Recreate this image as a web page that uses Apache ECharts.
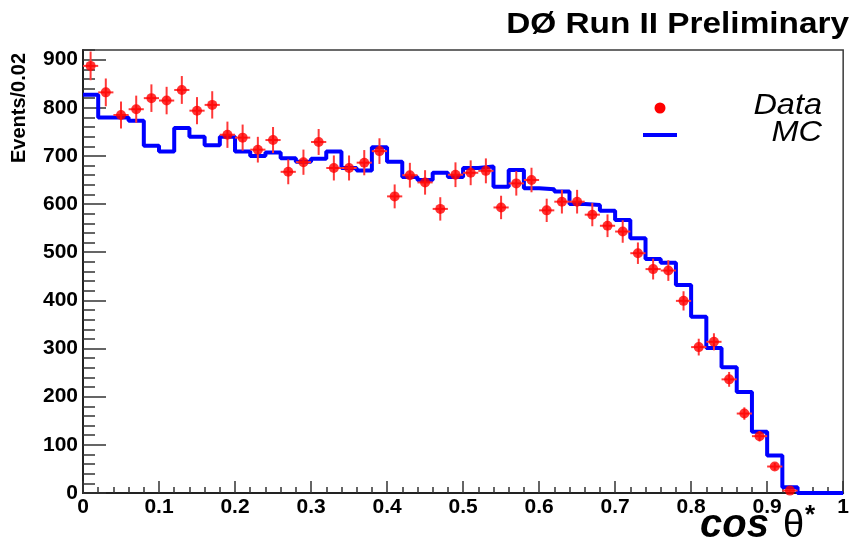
<!DOCTYPE html>
<html>
<head>
<meta charset="utf-8">
<script src="https://cdn.jsdelivr.net/npm/echarts@6/dist/echarts.min.js"></script>
<style>
  html, body { margin: 0; padding: 0; background: #fff; }
  #chart { width: 852px; height: 543px; }
</style>
</head>
<body>
<div id="chart"></div>
<script>
// cos theta* distribution, bins of 0.02 from 0 to 1
var binWidth = 0.02;

// MC histogram content per bin (50 bins)
var mcCounts = [
    827, 780, 780, 773, 721, 709, 758, 740, 722, 740,
    709, 700, 707, 695, 688, 694, 709, 675, 670, 718,
    688, 656, 650, 665, 656, 675, 678, 636, 671, 633,
    631, 626, 600, 598, 586, 567, 529, 486, 478, 432,
    366, 301, 261, 210, 127, 78, 12, 0, 0, 0
];

// data points at bin centres 0.01 ... 0.93
var dataCounts = [
    887, 832, 785, 797, 820, 815, 837, 794, 806, 744,
    738, 713, 733, 667, 687, 729, 675, 675, 686, 710,
    616, 660, 645, 590, 661, 665, 669, 593, 643, 650,
    587, 605, 605, 578, 555, 543, 498, 465, 462, 399,
    303, 314, 236, 165, 118, 55, 5
];

var yTicks = [0, 100, 200, 300, 400, 500, 600, 700, 800, 900];
var xTicks = [0, 0.1, 0.2, 0.3, 0.4, 0.5, 0.6, 0.7, 0.8, 0.9, 1];

// step line through the low edge of every bin, closed at x = 1
var mcLine = mcCounts.map(function (v, i) {
    return [+(i * binWidth).toFixed(2), v];
});
mcLine.push([1, mcCounts[mcCounts.length - 1]]);

var dataPts = dataCounts.map(function (v, i) {
    return [+((i + 0.5) * binWidth).toFixed(2), v, Math.sqrt(v)];
});

var FONT = '"Liberation Sans", Arial, Helvetica, sans-serif';

var chart = echarts.init(document.getElementById('chart'), null, {renderer: 'canvas'});

var option = {
    animation: false,
    backgroundColor: '#ffffff',
    grid: {
        left: 83, right: 5, top: 50, bottom: 50,
        show: true, borderColor: '#3a3a3a', borderWidth: 1.5,
        backgroundColor: '#ffffff'
    },
    xAxis: [{
        type: 'value', min: 0, max: 1, interval: 0.1,
        axisLine: {show: true, lineStyle: {color: '#222', width: 2}},
        axisTick: {inside: true, length: 12, lineStyle: {color: '#333', width: 1.5}},
        axisLabel: {
            color: '#000', fontFamily: FONT, fontWeight: 'bold', fontSize: 21, margin: 4,
            formatter: function (v) { return xTicks.indexOf(+v.toFixed(2)) >= 0 ? String(+v.toFixed(2)) : ''; }
        },
        splitLine: {show: false}
    }, {
        type: 'value', min: 0, max: 1, interval: 0.02, position: 'bottom',
        axisLine: {show: false},
        axisTick: {show: true, inside: true, length: 6, lineStyle: {color: '#333', width: 1.5}},
        axisLabel: {show: false},
        splitLine: {show: false}
    }],
    yAxis: [{
        type: 'value', min: 0, max: 920, interval: 100,
        axisLine: {show: true, lineStyle: {color: '#222', width: 2}},
        axisTick: {inside: true, length: 23, lineStyle: {color: '#333', width: 1.5}},
        axisLabel: {
            color: '#000', fontFamily: FONT, fontWeight: 'bold', fontSize: 21, margin: 5,
            showMaxLabel: false,
            formatter: function (v) { return yTicks.indexOf(v) >= 0 ? String(v) : ''; }
        },
        splitLine: {show: false}
    }, {
        type: 'value', min: 0, max: 920, interval: 20, position: 'left',
        axisLine: {show: false},
        axisTick: {show: true, inside: true, length: 12, lineStyle: {color: '#333', width: 1.5}},
        axisLabel: {show: false},
        splitLine: {show: false}
    }],
    series: [{
        name: 'MC',
        type: 'line',
        step: 'end',
        data: mcLine,
        showSymbol: false,
        lineStyle: {color: '#0000ff', width: 4},
        z: 2
    }, {
        name: 'Data errors',
        type: 'custom',
        data: dataPts,
        renderItem: function (params, api) {
            var x = api.value(0), y = api.value(1), e = api.value(2);
            var top = api.coord([x, y + e]);
            var bot = api.coord([x, y - e]);
            var lft = api.coord([x - binWidth / 2, y]);
            var rgt = api.coord([x + binWidth / 2, y]);
            var st = {stroke: '#ff3838', lineWidth: 2};
            return {
                type: 'group',
                children: [
                    {type: 'line', shape: {x1: top[0], y1: top[1], x2: bot[0], y2: bot[1]}, style: st},
                    {type: 'line', shape: {x1: lft[0], y1: lft[1], x2: rgt[0], y2: rgt[1]}, style: st}
                ]
            };
        },
        z: 3
    }, {
        name: 'Data',
        type: 'scatter',
        data: dataPts,
        symbol: 'circle',
        symbolSize: 10,
        itemStyle: {color: '#ff0000'},
        z: 4
    }],
    graphic: [
        // title
        {type: 'text', x: 849, y: 25, scaleX: 1.15, z: 10,
         style: {text: 'DØ Run II Preliminary', fill: '#000', font: 'bold 29px ' + FONT,
                 align: 'right', verticalAlign: 'middle'}},
        // y axis title
        {type: 'text', x: 19, y: 108, rotation: Math.PI / 2, z: 10,
         style: {text: 'Events/0.02', fill: '#000', font: 'bold 20px ' + FONT,
                 align: 'center', verticalAlign: 'middle'}},
        // x axis title
        {type: 'text', x: 700, y: 526, z: 10,
         style: {text: 'cos', fill: '#000', font: 'italic bold 40px ' + FONT,
                 align: 'left', verticalAlign: 'middle'}},
        {type: 'text', x: 783, y: 527, z: 10,
         style: {text: 'θ', fill: '#000', font: '38px ' + FONT,
                 align: 'left', verticalAlign: 'middle'}},
        {type: 'text', x: 805, y: 516, z: 10,
         style: {text: '*', fill: '#000', font: 'bold 26px ' + FONT,
                 align: 'left', verticalAlign: 'middle'}},
        // legend
        {type: 'circle', shape: {cx: 660, cy: 108, r: 5.5}, style: {fill: '#ff0000'}, z: 10},
        {type: 'line', shape: {x1: 643, y1: 135, x2: 677, y2: 135},
         style: {stroke: '#0000ff', lineWidth: 4}, z: 10},
        {type: 'text', x: 822, y: 106, scaleX: 1.12, z: 10,
         style: {text: 'Data', fill: '#000', font: 'italic 29px ' + FONT,
                 align: 'right', verticalAlign: 'middle'}},
        {type: 'text', x: 822, y: 133, scaleX: 1.12, z: 10,
         style: {text: 'MC', fill: '#000', font: 'italic 29px ' + FONT,
                 align: 'right', verticalAlign: 'middle'}}
    ]
};

chart.setOption(option);
</script>
</body>
</html>
